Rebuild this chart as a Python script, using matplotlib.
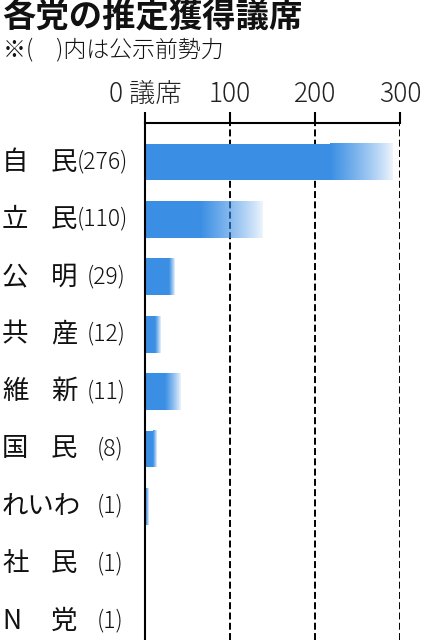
import numpy as np
import matplotlib
matplotlib.use("Agg")
import matplotlib.pyplot as plt
import matplotlib.transforms as mtransforms

plt.rcParams['font.family'] = ['Noto Sans CJK JP', 'DejaVu Sans']
plt.rcParams['lines.scale_dashes'] = False

# ---- data ----
party_first = ["自", "立", "公", "共", "維", "国", "れいわ", "社", "N"]
party_second = ["民", "民", "明", "産", "新", "民", "", "民", "党"]
pre_seats = [276, 110, 29, 12, 11, 8, 1, 1, 1]
est_low = [218, 65, 28, 12, 24, 9, 1, 0, 0]
est_high = [292, 139, 34, 18, 42, 13, 4, 1, 1]
xticks = [0, 100, 200, 300]
xtick_labels = ["0 議席", "100", "200", "300"]
title = "各党の推定獲得議席"
subtitle = "※(\u3000)内は公示前勢力"

W, H = 423, 640
fig = plt.figure(figsize=(W / 100, H / 100), dpi=100)
ax = fig.add_axes([145 / W, 0, 255 / W, (640 - 123) / H])

blue = np.array([58, 142, 228]) / 255.0
bar_h = 0.64
n = len(pre_seats)

for i in range(n):
    lo, hi = est_low[i], est_high[i]
    if lo > 0:
        ax.barh(i, lo, height=bar_h, color=blue, zorder=2, linewidth=0)
    if hi > lo:
        g = np.zeros((1, 64, 4))
        g[..., :3] = blue
        g[..., 3] = np.linspace(1.0, 0.05, 64) ** 0.8
        ax.imshow(g, extent=[lo, hi, i + bar_h / 2, i - bar_h / 2],
                  aspect='auto', interpolation='bilinear', zorder=2)

for xv in xticks[1:]:
    ax.axvline(xv, color='black', lw=1.4, dashes=(5, 2.4), zorder=1)

ax.set_xlim(0, 300)
ax.set_ylim((640 - 162) / 57.4, (123 - 162) / 57.4)

ax.spines['right'].set_visible(False)
ax.spines['bottom'].set_visible(False)
for s in ['top', 'left']:
    ax.spines[s].set_linewidth(1.5)
    ax.spines[s].set_color('black')
ax.xaxis.tick_top()
ax.set_xticks(xticks)
ax.set_xticklabels(xtick_labels, fontsize=19, color='#222222', fontweight='light')
ax.tick_params(axis='x', direction='out', length=8, width=1.5, pad=3)
ax.set_yticks([])
ax.patch.set_alpha(0)

trans = mtransforms.blended_transform_factory(fig.transFigure, ax.transData)
for i in range(n):
    ax.text(2 / W, i, party_first[i], transform=trans, fontsize=19,
            va='center', ha='left', color='#111111')
    if party_second[i]:
        ax.text(51 / W, i, party_second[i], transform=trans, fontsize=19,
                va='center', ha='left', color='#111111')
    lbl = f"({pre_seats[i]})"
    nd = len(str(pre_seats[i]))
    ax.text((107 - 10 * nd) / W, i, lbl, transform=trans, fontsize=16.5,
            va='center', ha='left', color='#111111', fontweight='light')

fig.text(2 / W, 1 - 1 / H, title, fontsize=24, fontweight='bold',
         va='top', ha='left', color='#111111')
fig.text(3 / W, 1 - 37 / H, subtitle, fontsize=16.5, va='top', ha='left',
         color='#111111', fontweight='light')

fig.savefig("out.png", dpi=100)
